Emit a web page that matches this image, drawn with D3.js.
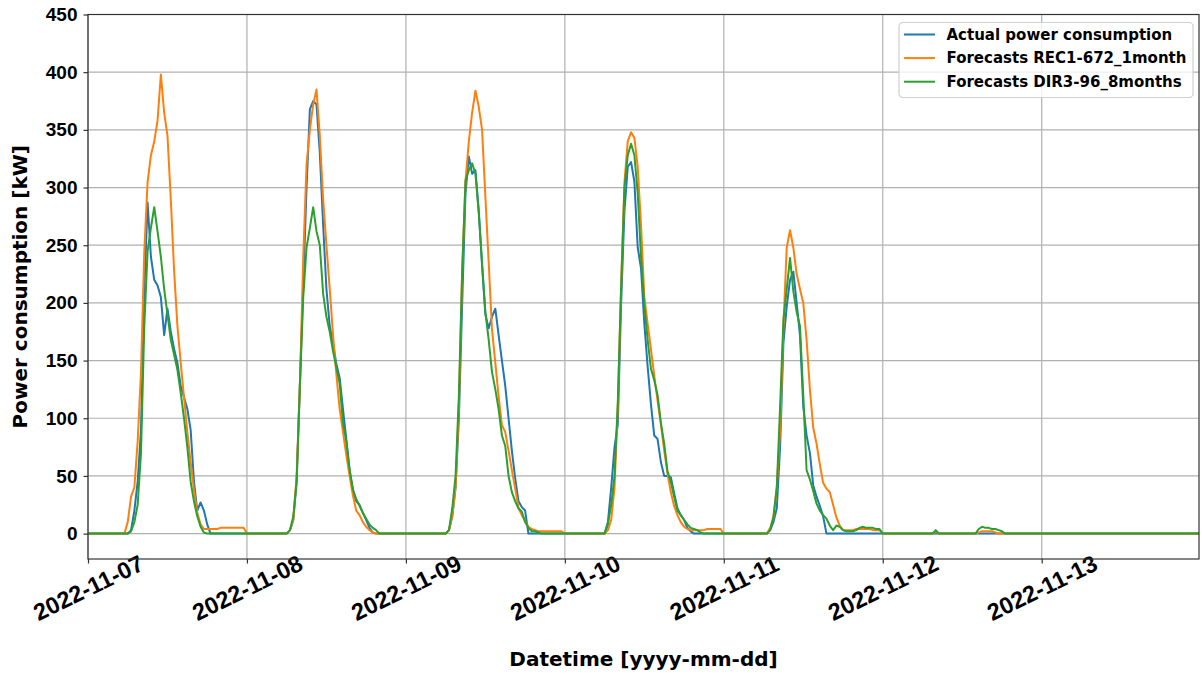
<!DOCTYPE html>
<html>
<head>
<meta charset="utf-8">
<script src="https://cdn.jsdelivr.net/npm/d3@7"></script>
<style>
  body { margin: 0; background: #fff; }
  svg { font-family: "DejaVu Sans", sans-serif; font-weight: bold; }
</style>
</head>
<body>
<div class="canvas"></div>
<script>
// readings every 30 min starting at 05:00 each day (kW), one array per day
const days = ["2022-11-07", "2022-11-08", "2022-11-09", "2022-11-10", "2022-11-11", "2022-11-12", "2022-11-13"];
const startHour = 5;
const stepHours = 0.5;

const actual = [
  [0,0,0,3,20,45,90,210,287,240,220,215,205,172,195,175,160,148,128,118,108,90,45,20,27,20,8,0],
  [0,0,0,3,12,45,130,215,300,368,375,372,330,268,212,180,165,147,135,108,82,55,38,28,25,18,12,5,1,0],
  [0,0,0,3,15,40,100,200,295,327,312,315,280,232,190,178,188,195,172,150,128,100,72,48,28,23,20,0],
  [0,0,0,10,40,75,95,200,280,318,322,305,248,230,182,145,112,85,82,62,50,50,49,35,22,16,12,5,2,0],
  [0,0,0,0,3,10,22,75,165,197,220,227,200,172,110,85,70,42,32,24,15,0],
  [],
  []
];
const rec1 = [
  [0,0,10,32,40,80,140,245,305,328,340,358,398,365,345,290,228,180,148,118,88,62,38,18,8,4,4,4,4,4,5,5,5,5,5,5,5,5],
  [0,0,0,3,12,50,130,240,320,350,372,385,345,290,250,212,172,138,108,88,68,50,33,20,16,10,6,3,1,0],
  [0,0,0,3,15,40,110,228,306,340,365,384,370,350,292,235,177,148,119,94,88,72,55,39,22,16,11,6,4,3,2,2,2,2,2,2,2,2],
  [0,0,0,3,12,40,110,215,305,340,348,343,318,268,205,182,160,137,115,95,72,52,36,24,16,10,6,4,3,3,3,3,3,4,4,4,4,4],
  [0,0,0,0,5,14,40,90,180,248,263,248,225,212,200,168,125,92,78,60,44,39,36,25,14,7,3,3,3,3,4,4,4,4,4,3,3,3],
  [0,0,0,0,0,0,2,0,0,0,0,0,0,0,0,0,0,0,0,1,2,2,2,2,1,0],
  []
];
const dir3 = [
  [0,0,0,2,10,25,70,180,245,265,283,262,240,212,190,168,155,142,122,100,75,45,28,15,6,1,0],
  [0,0,0,3,15,45,130,205,248,265,283,262,250,208,188,175,158,144,130,96,80,55,38,30,24,18,13,8,5,3,0],
  [0,0,0,3,22,50,120,228,306,315,321,312,278,235,192,168,140,125,108,85,76,50,36,28,22,19,10,5,2,2,1,0],
  [0,0,0,8,25,50,115,215,300,328,338,328,295,240,198,168,143,133,120,96,78,54,45,32,20,16,12,8,5,4,3,1,0],
  [0,0,0,0,3,15,40,110,185,212,239,210,192,180,120,55,47,37,26,20,16,13,7,3,7,6,3,2,2,2,3,5,6,5,5,5,4,4],
  [0,0,0,0,0,0,3,0,0,0,0,0,0,0,0,0,0,0,0,4,6,5,5,4,4,3,2,0],
  []
];

const seriesNames = ["Actual power consumption", "Forecasts REC1-672_1month", "Forecasts DIR3-96_8months"];
const seriesColors = ["#1f77b4", "#ff7f0e", "#2ca02c"];
const yTicks = [0, 50, 100, 150, 200, 250, 300, 350, 400, 450];

const parseDay = d3.timeParse("%Y-%m-%d");
const hour = 3600 * 1000;
const tStart = parseDay(days[0]);
const tEnd = new Date(+tStart + (7 * 24 - 0.25) * hour);

function toPoints(perDay) {
  const pts = [];
  perDay.forEach((vals, di) => {
    const d0 = +parseDay(days[di]);
    pts.push({ t: new Date(d0), v: 0 });
    vals.forEach((v, i) => pts.push({ t: new Date(d0 + (startHour + i * stepHours) * hour), v: v }));
  });
  pts.push({ t: tEnd, v: 0 });
  return pts;
}
const allSeries = [actual, rec1, dir3].map(toPoints);

const W = 1202, H = 675;
const plot = { left: 88, right: 1199, top: 14.5, bottom: 559 };

const svg = d3.select('.canvas')
  .append('svg')
  .attr('width', W)
  .attr('height', H);

const x = d3.scaleTime()
  .domain([tStart, tEnd])
  .range([plot.left, plot.right]);

const y = d3.scaleLinear()
  .domain([-22, 450])
  .range([plot.bottom, plot.top]);

const xTicks = days.map(parseDay);

// grid
svg.append('g')
  .selectAll('line')
  .data(xTicks)
  .enter().append('line')
  .attr('x1', d => x(d)).attr('x2', d => x(d))
  .attr('y1', plot.top).attr('y2', plot.bottom)
  .attr('stroke', '#b0b0b0').attr('stroke-width', 1.2);

svg.append('g')
  .selectAll('line')
  .data(yTicks)
  .enter().append('line')
  .attr('x1', plot.left).attr('x2', plot.right)
  .attr('y1', d => y(d)).attr('y2', d => y(d))
  .attr('stroke', '#b0b0b0').attr('stroke-width', 1.2);

// lines
const line = d3.line()
  .x(d => x(d.t))
  .y(d => y(d.v));

svg.append('clipPath').attr('id', 'clip')
  .append('rect')
  .attr('x', plot.left).attr('y', plot.top)
  .attr('width', plot.right - plot.left).attr('height', plot.bottom - plot.top);

svg.append('g')
  .attr('clip-path', 'url(#clip)')
  .selectAll('path')
  .data(allSeries)
  .enter().append('path')
  .attr('d', line)
  .attr('fill', 'none')
  .attr('stroke', (d, i) => seriesColors[i])
  .attr('stroke-width', 2)
  .attr('stroke-linejoin', 'round');

// axes
const xAxis = svg.append('g')
  .attr('transform', `translate(0,${plot.bottom})`)
  .call(d3.axisBottom(x).tickValues(xTicks).tickFormat(d3.timeFormat('%Y-%m-%d')).tickSize(4.5));

xAxis.selectAll('text')
  .attr('font-size', 23.5)
  .attr('fill', '#000')
  .attr('text-anchor', 'middle')
  .attr('dy', null)
  .attr('dominant-baseline', 'central')
  .attr('transform', 'translate(0,29) rotate(-26)')
  .attr('y', 0);

const yAxis = svg.append('g')
  .attr('transform', `translate(${plot.left},0)`)
  .call(d3.axisLeft(y).tickValues(yTicks).tickSize(4.5).tickPadding(6));

yAxis.selectAll('text')
  .attr('font-size', 19)
  .attr('fill', '#000');

[xAxis, yAxis].forEach(a => {
  a.select('.domain').remove();
  a.selectAll('line').attr('stroke', '#333').attr('stroke-width', 1.2);
});

// frame
svg.append('rect')
  .attr('x', plot.left).attr('y', plot.top)
  .attr('width', plot.right - plot.left).attr('height', plot.bottom - plot.top)
  .attr('fill', 'none')
  .attr('stroke', '#333')
  .attr('stroke-width', 1.2);

// axis titles
svg.append('text')
  .attr('x', (plot.left + plot.right) / 2)
  .attr('y', 666)
  .attr('text-anchor', 'middle')
  .attr('font-size', 20)
  .text('Datetime [yyyy-mm-dd]');

svg.append('text')
  .attr('transform', `translate(27,${(plot.top + plot.bottom) / 2}) rotate(-90)`)
  .attr('text-anchor', 'middle')
  .attr('font-size', 20)
  .text('Power consumption [kW]');

// legend
const legend = svg.append('g')
  .attr('transform', 'translate(899,22.5)');

legend.append('rect')
  .attr('width', 294).attr('height', 75)
  .attr('rx', 4)
  .attr('fill', 'white').attr('fill-opacity', 0.8)
  .attr('stroke', '#d0d0d0').attr('stroke-width', 1.2);

const items = legend.selectAll('g.item')
  .data(seriesNames)
  .enter().append('g')
  .attr('transform', (d, i) => `translate(0,${12 + i * 23.6})`);

items.append('line')
  .attr('x1', 5).attr('x2', 36)
  .attr('stroke', (d, i) => seriesColors[i])
  .attr('stroke-width', 2);

items.append('text')
  .attr('x', 47.5)
  .attr('dy', '0.35em')
  .attr('font-size', 15)
  .attr('fill', '#000')
  .text(d => d);
</script>
</body>
</html>
